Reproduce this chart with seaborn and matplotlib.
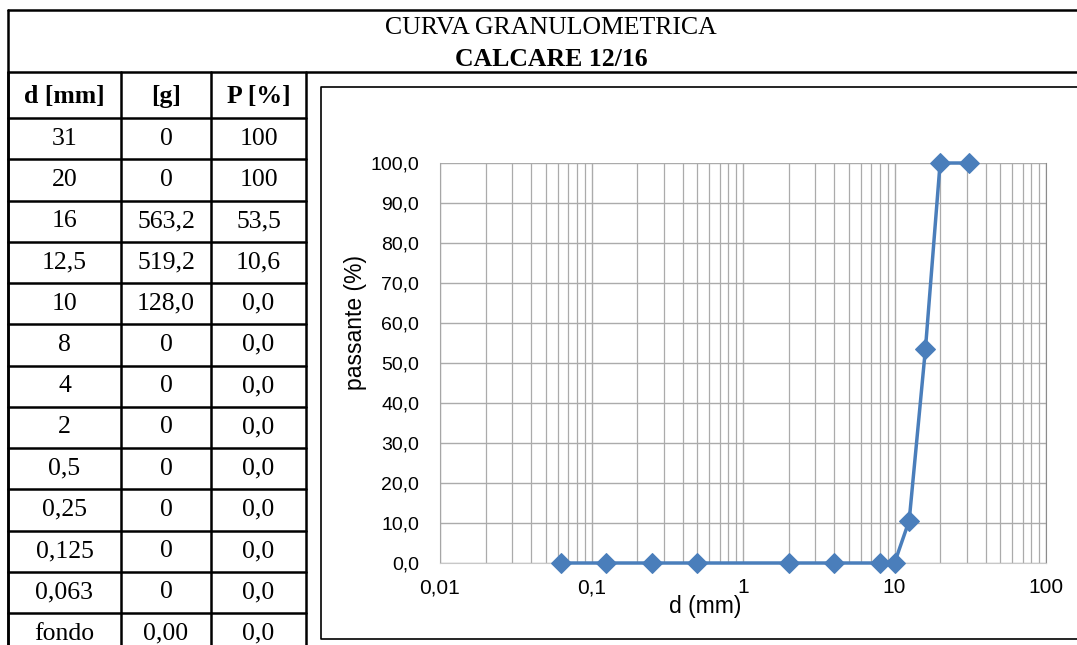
import matplotlib.pyplot as plt
import matplotlib.ticker as mticker
import seaborn as sns
import pandas as pd

# data
d_labels = ["31", "20", "16", "12,5", "10", "8", "4", "2", "0,5", "0,25", "0,125", "0,063", "fondo"]
g_labels = ["0", "0", "563,2", "519,2", "128,0", "0", "0", "0", "0", "0", "0", "0", "0,00"]
p_labels = ["100", "100", "53,5", "10,6", "0,0", "0,0", "0,0", "0,0", "0,0", "0,0", "0,0", "0,0", "0,0"]
headers = ["d [mm]", "[g]", "P [%]"]

d_mm = [31, 20, 16, 12.5, 10, 8, 4, 2, 0.5, 0.25, 0.125, 0.063]
passing = [100, 100, 53.5, 10.6, 0.0, 0.0, 0.0, 0.0, 0.0, 0.0, 0.0, 0.0]

sns.set_style("white")
plt.rcParams['font.family'] = ['Liberation Sans', 'DejaVu Sans']
plt.rcParams['text.color'] = 'black'
plt.rcParams['xtick.labelcolor'] = 'black'
plt.rcParams['ytick.labelcolor'] = 'black'
plt.rcParams['axes.labelcolor'] = 'black'

W, H = 1077, 645
fig = plt.figure(figsize=(W / 100, H / 100), dpi=100)

# background axes in pixel coords for the table frame
bg = fig.add_axes([0, 0, 1, 1])
bg.set_xlim(0, W)
bg.set_ylim(H, 0)
bg.axis("off")

lw = 1.8
serif = "Liberation Serif"
fs = 18.5
# outer frame and title row
bg.plot([8, 8], [10, H], color="black", lw=lw)
bg.plot([8, W], [10, 10], color="black", lw=lw)
bg.plot([8, W], [72, 72], color="black", lw=lw)
bg.text(551, 28, "CURVA GRANULOMETRICA", ha="center", va="center", fontsize=fs, family=serif)
bg.text(551, 59, "CALCARE 12/16", ha="center", va="center", fontsize=fs, family=serif, weight="bold")

# table
col_x = [8, 121, 211, 306]
col_c = [64.5, 166, 258.5]
row0, rh = 118, 41.25
for x in col_x:
    bg.plot([x, x], [72, H], color="black", lw=lw)
bg.plot([8, 306], [row0, row0], color="black", lw=lw)
for i in range(len(d_labels)):
    y = row0 + rh * (i + 1)
    bg.plot([8, 306], [y, y], color="black", lw=lw)
for j, h in enumerate(headers):
    bg.text(col_c[j], 96, h, ha="center", va="center", fontsize=fs, family=serif, weight="bold")
for i, row in enumerate(zip(d_labels, g_labels, p_labels)):
    yc = row0 + rh * (i + 0.5)
    for j, s in enumerate(row):
        bg.text(col_c[j], yc, s, ha="center", va="center", fontsize=fs, family=serif)

# chart box (open on the right, as in the source)
bg.plot([W, 321, 321, W], [87, 87, H - 6, H - 6], color="black", lw=1.2)

# chart
ax = fig.add_axes([440 / W, (H - 563) / H, (1046 - 440) / W, (563 - 163) / H])
df = pd.DataFrame({"d": d_mm, "P": passing})
sns.lineplot(data=df, x="d", y="P", ax=ax, color="#4a7ebb", lw=2.5, marker="D",
             markersize=10, markeredgecolor="#4a7ebb", sort=False, clip_on=False, zorder=5)
ax.set_xscale("log")
ax.set_xlim(0.01, 100)
ax.set_ylim(0, 100)
ax.set_yticks(range(0, 101, 10))
ax.yaxis.set_major_formatter(mticker.FuncFormatter(lambda v, p: f"{v:.1f}".replace(".", ",")))
ax.set_xticks([0.01, 0.1, 1, 10, 100])
ax.xaxis.set_major_formatter(mticker.FuncFormatter(lambda v, p: f"{v:g}".replace(".", ",")))
ax.xaxis.set_minor_locator(mticker.LogLocator(base=10, subs=range(2, 10), numticks=20))
ax.xaxis.set_minor_formatter(mticker.NullFormatter())
ax.grid(True, which="major", color="#ababab", lw=1.0)
ax.grid(True, which="minor", axis="x", color="#ababab", lw=0.9)
ax.tick_params(axis="x", which="major", length=5, color="#a6a6a6", labelsize=15, pad=6)
ax.tick_params(axis="x", which="minor", length=0)
ax.tick_params(axis="y", length=3, color="#a6a6a6", labelsize=14, pad=12)
ax.spines["top"].set_visible(False)
ax.spines["left"].set_color("#a6a6a6")
ax.spines["bottom"].set_color("#c8c8c8")
ax.spines["right"].set_color("#8c8c8c")
ax.set_xlabel("d (mm)", fontsize=16.5)
ax.set_ylabel("passante (%)", fontsize=16.5)
ax.xaxis.set_label_coords((705 - 440) / (1046 - 440), -0.08)
ax.yaxis.set_label_coords(-0.12, 0.6)

fig.savefig("out.png", dpi=100)
